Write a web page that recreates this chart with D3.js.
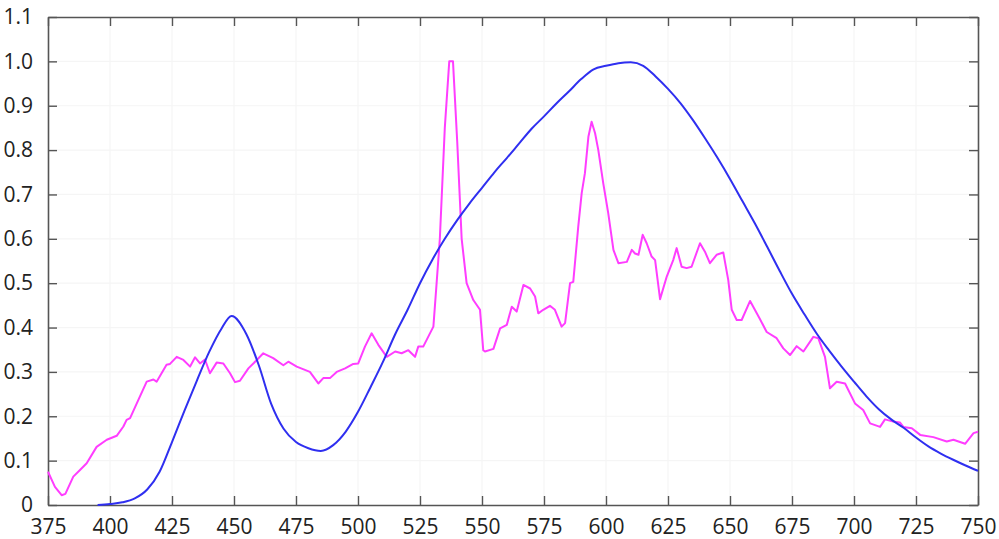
<!DOCTYPE html>
<html>
<head>
<meta charset="utf-8">
<script src="https://cdn.jsdelivr.net/npm/d3@7"></script>
<style>
  body { margin: 0; background: #fff; }
  text { font-family: "Open Sans", "DejaVu Sans", sans-serif; fill: #222; }
</style>
</head>
<body>
<div id="chart"></div>
<script>
// tick values
var xTicks = [375, 400, 425, 450, 475, 500, 525, 550, 575, 600, 625, 650, 675, 700, 725, 750];
var yTicks = [0, 0.1, 0.2, 0.3, 0.4, 0.5, 0.6, 0.7, 0.8, 0.9, 1.0, 1.1];

// blue curve
var blueNm = [395, 400, 405, 410, 415, 420, 425, 430, 435, 440, 445, 449, 455, 460, 465, 470, 475, 480, 485, 490,
    495, 500, 505, 510, 515, 520, 525, 530, 535, 540, 545, 550, 555, 560, 565, 570, 575, 580, 585, 590,
    595, 600, 605, 610, 615, 620, 625, 630, 635, 640, 645, 650, 655, 660, 665, 670, 675, 680, 685, 690,
    695, 700, 705, 710, 715, 720, 725, 730, 735, 740, 745, 750];
var blueVal = [0, 0.002, 0.006, 0.015, 0.035, 0.075, 0.142, 0.212, 0.28, 0.345, 0.398, 0.426, 0.385, 0.315, 0.228, 0.172, 0.142, 0.128, 0.122, 0.135,
    0.165, 0.21, 0.265, 0.322, 0.385, 0.44, 0.5, 0.553, 0.6, 0.642, 0.68, 0.715, 0.75, 0.782, 0.815, 0.848, 0.876, 0.905, 0.932, 0.96,
    0.982, 0.99, 0.996, 0.998, 0.99, 0.966, 0.938, 0.906, 0.868, 0.826, 0.782, 0.735, 0.685, 0.635, 0.582, 0.528, 0.476, 0.43, 0.386, 0.348,
    0.312, 0.278, 0.245, 0.216, 0.193, 0.174, 0.152, 0.132, 0.116, 0.102, 0.089, 0.077];

// magenta curve, read point by point
var magentaNm = [375, 377.8, 380.5, 382, 385.2, 387.9, 390.6, 394.6, 398.7, 402.7, 405.4, 406.7, 408.1, 410.8, 414.8, 417.5, 418.8,
    422.8, 424.2, 426.9, 429.6, 432.3, 434.3, 436.3, 438.3, 440.3, 443, 445.7, 448.4, 450.4, 452.4, 455.8, 458, 461.8, 465.8,
    469.9, 471.9, 475.3, 480.6, 484, 486, 488.7, 491.4, 494.8, 498.1, 500.1, 502.8, 505.5, 508.2, 511.6, 515, 517.6, 520.3,
    523, 524.3, 526.3, 528.3, 530.4, 531.7, 533, 535, 536.8, 538.3, 540, 541.8, 543.8, 546.5, 549.2, 550.5, 551.2, 554.6,
    557.3, 560, 562, 564, 566.7, 569.4, 571.4, 572.7, 574.7, 577.4, 579.4, 582.1, 583.5, 585.5, 586.8, 588.8, 590.2, 591.5,
    592.9, 594.2, 595.6, 596.9, 598.9, 600.9, 603, 605, 608.4, 610.4, 611.7, 613.1, 614.8, 616.4, 618.4, 619.8, 621.8, 624.5,
    627.1, 628.5, 630.5, 632.5, 634.5, 637.9, 639.9, 641.9, 644.6, 647.3, 649.3, 650.7, 652.7, 654.7, 658.1, 662, 664.8,
    668.8, 671.5, 674.2, 676.9, 679.6, 683.6, 685.6, 688.3, 690.3, 693, 696.4, 700.4, 703.7, 706.5, 710.5, 712.5, 715.8,
    718.5, 719.9, 723.3, 726.7, 732, 737.4, 740.1, 744.8, 748.2, 750];
var magentaVal = [0.075, 0.041, 0.022, 0.025, 0.064, 0.079, 0.094, 0.131, 0.147, 0.156, 0.177, 0.192, 0.196, 0.229, 0.278, 0.283, 0.278,
    0.316, 0.318, 0.334, 0.327, 0.312, 0.333, 0.319, 0.328, 0.297, 0.321, 0.319, 0.297, 0.277, 0.28, 0.308, 0.32, 0.342, 0.331,
    0.315, 0.323, 0.312, 0.3, 0.274, 0.286, 0.286, 0.3, 0.308, 0.318, 0.319, 0.357, 0.387, 0.361, 0.334, 0.346, 0.342, 0.349,
    0.334, 0.357, 0.357, 0.379, 0.402, 0.5, 0.6, 0.85, 1.0, 1.0, 0.82, 0.6, 0.5, 0.462, 0.44, 0.349, 0.346, 0.352,
    0.398, 0.406, 0.447, 0.436, 0.496, 0.488, 0.47, 0.432, 0.44, 0.449, 0.44, 0.402, 0.41, 0.5, 0.503, 0.627, 0.703, 0.748,
    0.83, 0.864, 0.838, 0.8, 0.725, 0.658, 0.575, 0.545, 0.548, 0.575, 0.567, 0.564, 0.609, 0.59, 0.56, 0.552, 0.464, 0.515,
    0.552, 0.579, 0.537, 0.534, 0.537, 0.59, 0.571, 0.545, 0.564, 0.569, 0.507, 0.44, 0.417, 0.417, 0.46, 0.42, 0.39,
    0.376, 0.353, 0.338, 0.358, 0.346, 0.379, 0.376, 0.334, 0.263, 0.278, 0.274, 0.229, 0.214, 0.184, 0.176, 0.193, 0.188,
    0.186, 0.176, 0.173, 0.158, 0.153, 0.143, 0.147, 0.138, 0.162, 0.165];

var W = 999, H = 539;
var margin = { top: 17, left: 48, bottom: 34, right: 21 },
    width = W - margin.left - margin.right,
    height = H - margin.top - margin.bottom;

var svg = d3.select("#chart").append("svg")
    .attr("width", W)
    .attr("height", H)
    .append("g")
    .attr("transform", "translate(" + margin.left + "," + margin.top + ")");

var x = d3.scaleLinear().domain([375, 750]).range([0, width]);
var y = d3.scaleLinear().domain([0, 1.1]).range([height, 0]);

// very faint grid
svg.append("g").selectAll("line.gx")
    .data(xTicks.slice(1, -1)).enter().append("line")
    .attr("x1", d => x(d)).attr("x2", d => x(d))
    .attr("y1", 0).attr("y2", height)
    .attr("stroke", "#f5f5f5").attr("stroke-width", 1.2);
svg.append("g").selectAll("line.gy")
    .data(yTicks.slice(1, -1)).enter().append("line")
    .attr("x1", 0).attr("x2", width)
    .attr("y1", d => y(d)).attr("y2", d => y(d))
    .attr("stroke", "#f5f5f5").attr("stroke-width", 1.2);

var tickLen = 9;
var yFmt = function (d) { return d === 0 ? "0" : d3.format(".1f")(d); };

var xAxis = d3.axisBottom(x).tickValues(xTicks).tickSizeInner(-tickLen).tickSizeOuter(0).tickPadding(14);
var xAxisTop = d3.axisTop(x).tickValues(xTicks).tickSizeInner(-tickLen).tickSizeOuter(0).tickFormat("");
var yAxis = d3.axisLeft(y).tickValues(yTicks).tickSizeInner(-tickLen).tickSizeOuter(0).tickPadding(15).tickFormat(yFmt);
var yAxisRight = d3.axisRight(y).tickValues(yTicks).tickSizeInner(-tickLen).tickSizeOuter(0).tickFormat("");

function styleAxis(g) {
    g.select(".domain").attr("stroke", "#555").attr("stroke-width", 1.6);
    g.selectAll(".tick line").attr("stroke", "#555").attr("stroke-width", 1.4);
    g.selectAll(".tick text").attr("font-size", 21).attr("fill", "#222")
        .style("font-family", "'Open Sans', 'DejaVu Sans', sans-serif");
}

svg.append("g").attr("class", "axis x")
    .attr("transform", "translate(0," + height + ")")
    .call(xAxis).call(styleAxis);
svg.append("g").attr("class", "axis xt").call(xAxisTop).call(styleAxis);
svg.append("g").attr("class", "axis y").call(yAxis).call(styleAxis);
svg.append("g").attr("class", "axis yr")
    .attr("transform", "translate(" + width + ",0)")
    .call(yAxisRight).call(styleAxis);

var line = d3.line()
    .x(d => x(d[0]))
    .y(d => y(d[1]));

svg.append("path")
    .datum(d3.zip(magentaNm, magentaVal))
    .attr("fill", "none")
    .attr("stroke", "#ff3dff")
    .attr("stroke-width", 2)
    .attr("stroke-linejoin", "round")
    .attr("d", line);

svg.append("path")
    .datum(d3.zip(blueNm, blueVal))
    .attr("fill", "none")
    .attr("stroke", "#2f2ff0")
    .attr("stroke-width", 2)
    .attr("stroke-linejoin", "round")
    .attr("d", line.curve(d3.curveMonotoneX));
</script>
</body>
</html>
